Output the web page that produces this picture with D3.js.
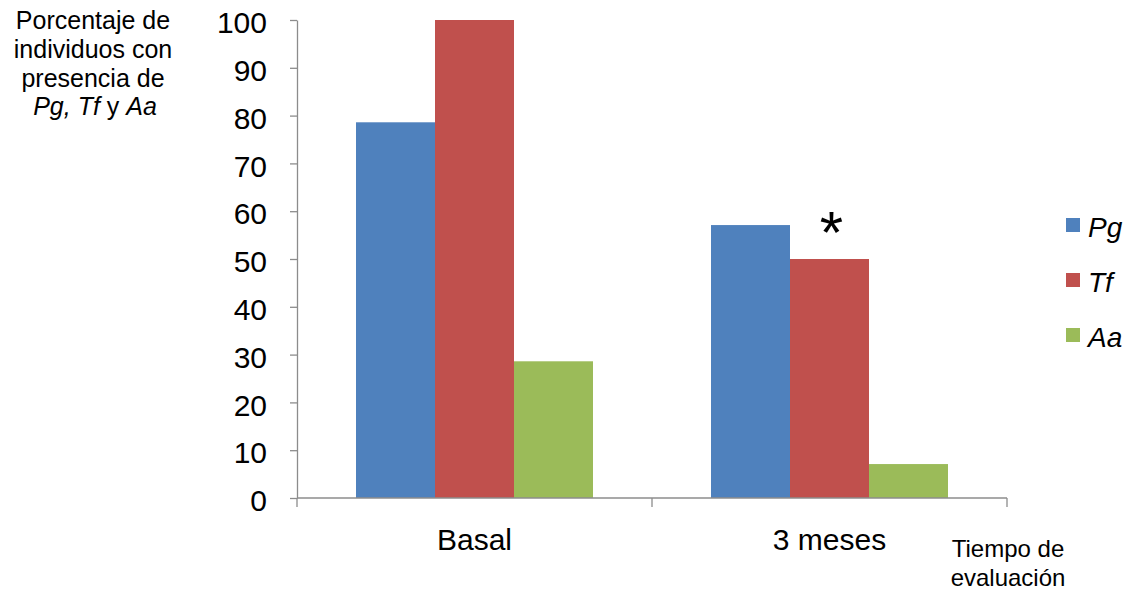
<!DOCTYPE html>
<html>
<head>
<meta charset="utf-8">
<script src="https://cdn.jsdelivr.net/npm/d3@7"></script>
<style>
  body { margin: 0; background: #fff; }
  text { font-family: "Liberation Sans", Arial, sans-serif; fill: #000; }
</style>
</head>
<body>
<div id="chart"></div>
<script>
const categories = ["Basal", "3 meses"];
const seriesNames = ["Pg", "Tf", "Aa"];
const pgValues = [78.6, 57.1];
const tfValues = [100, 50];
const aaValues = [28.6, 7.1];
const colors = ["#4f81bd", "#c0504d", "#9bbb59"];
const yTicks = [0, 10, 20, 30, 40, 50, 60, 70, 80, 90, 100];

const width = 1129, height = 590;
const margin = { left: 297, right: 122, top: 20, bottom: 92 };

const svg = d3.select("#chart").append("svg")
  .attr("width", width)
  .attr("height", height);

const x0 = d3.scaleBand()
  .domain(categories)
  .range([margin.left, width - margin.right])
  .padding(0);

const x1 = d3.scaleBand()
  .domain(seriesNames)
  .range([59, x0.bandwidth() - 59])
  .padding(0);

const y = d3.scaleLinear()
  .domain([0, 100])
  .range([height - margin.bottom, margin.top]);

const rows = categories.map((c, i) => ({
  cat: c,
  vals: [pgValues[i], tfValues[i], aaValues[i]]
}));

// bars
const groups = svg.append("g")
  .selectAll("g")
  .data(rows)
  .enter().append("g")
  .attr("transform", d => `translate(${x0(d.cat)},0)`);

groups.selectAll("rect")
  .data(d => d.vals.map((v, j) => ({ key: seriesNames[j], v: v, j: j })))
  .enter().append("rect")
  .attr("x", d => x1(d.key))
  .attr("width", x1.bandwidth())
  .attr("y", d => y(d.v))
  .attr("height", d => y(0) - y(d.v))
  .attr("fill", d => colors[d.j]);

// y axis
const yAxis = svg.append("g")
  .attr("transform", `translate(${margin.left},0)`)
  .call(d3.axisLeft(y).tickValues(yTicks).tickSize(7).tickSizeOuter(0).tickPadding(23));
yAxis.select(".domain").attr("stroke", "#8c8c8c").attr("stroke-width", 1.3);
yAxis.selectAll(".tick line").attr("stroke", "#8c8c8c").attr("stroke-width", 1.3);
yAxis.selectAll(".tick text")
  .attr("font-size", 30)
  .attr("font-family", "Liberation Sans, Arial, sans-serif")
  .attr("fill", "#000")
  .attr("dy", "0.42em");

// x axis
const xAxisG = svg.append("g")
  .attr("transform", `translate(0,${y(0)})`);
xAxisG.append("line")
  .attr("x1", margin.left).attr("x2", width - margin.right)
  .attr("y1", 0).attr("y2", 0)
  .attr("stroke", "#8c8c8c").attr("stroke-width", 1.3);
const xEdges = [...categories.map(c => x0(c)), x0(categories[categories.length - 1]) + x0.bandwidth()];
xAxisG.selectAll(".xt")
  .data(xEdges)
  .enter().append("line")
  .attr("x1", d => d).attr("x2", d => d)
  .attr("y1", 0).attr("y2", 9)
  .attr("stroke", "#8c8c8c").attr("stroke-width", 1.3);
xAxisG.selectAll(".xl")
  .data(categories)
  .enter().append("text")
  .attr("x", d => x0(d) + x0.bandwidth() / 2)
  .attr("y", 52)
  .attr("text-anchor", "middle")
  .attr("font-size", 30)
  .text(d => d);

// asterisk over Tf at 3 meses
svg.append("text")
  .attr("x", x0("3 meses") + x1("Tf") + x1.bandwidth() / 2 + 2)
  .attr("y", y(50) - 6)
  .attr("text-anchor", "middle")
  .attr("font-size", 60)
  .text("*");

// y title
const yTitle = svg.append("text")
  .attr("text-anchor", "middle")
  .attr("font-size", 25);
yTitle.append("tspan").attr("x", 93).attr("y", 29).text("Porcentaje de");
yTitle.append("tspan").attr("x", 93).attr("y", 58).text("individuos con");
yTitle.append("tspan").attr("x", 93).attr("y", 87).text("presencia de");
const l4 = yTitle.append("tspan").attr("x", 95).attr("y", 115);
l4.append("tspan").attr("font-style", "italic").text("Pg, Tf");
l4.append("tspan").text(" y ");
l4.append("tspan").attr("font-style", "italic").text("Aa");

// x title
const xTitle = svg.append("text")
  .attr("text-anchor", "middle")
  .attr("font-size", 24);
xTitle.append("tspan").attr("x", 1008).attr("y", 557).text("Tiempo de");
xTitle.append("tspan").attr("x", 1008).attr("y", 586).text("evaluación");

// legend
const legend = svg.append("g")
  .selectAll("g")
  .data(seriesNames)
  .enter().append("g")
  .attr("transform", (d, i) => `translate(1066,${218 + i * 55})`);
legend.append("rect")
  .attr("width", 14).attr("height", 14)
  .attr("fill", (d, i) => colors[i]);
legend.append("text")
  .attr("x", 22).attr("y", 19)
  .attr("font-size", 28)
  .attr("font-style", "italic")
  .text(d => d);
</script>
</body>
</html>
